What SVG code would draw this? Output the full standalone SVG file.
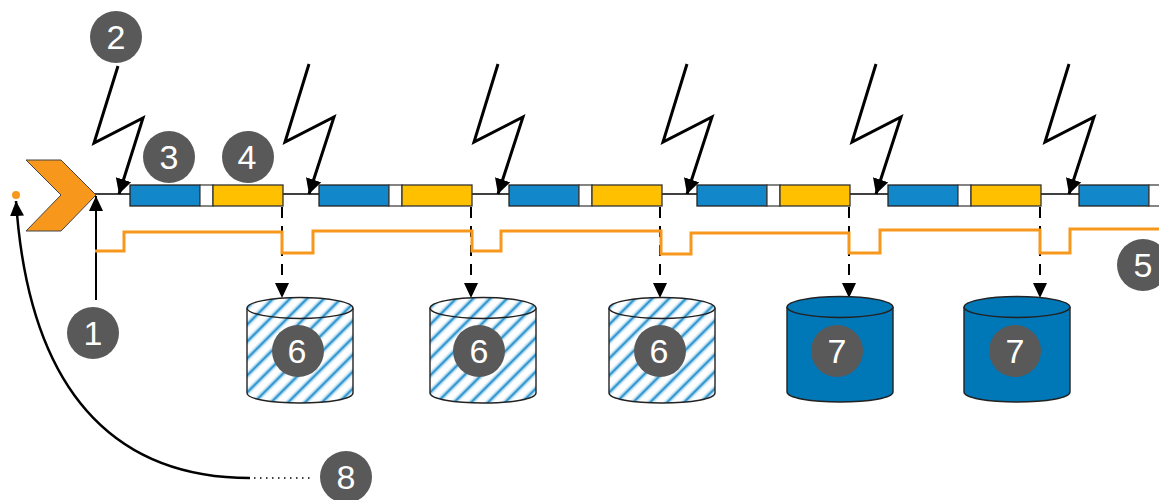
<svg xmlns="http://www.w3.org/2000/svg" xmlns:xlink="http://www.w3.org/1999/xlink" width="1159" height="500" viewBox="0 0 1159 500">
<style>
.b{fill:#1287c9;stroke:#222;stroke-width:1.3}
.w{fill:#fff;stroke:#444;stroke-width:1.3}
.y{fill:#ffc000;stroke:#333;stroke-width:1.3}
.bolt{fill:none;stroke:#000;stroke-width:3;stroke-linejoin:miter;marker-end:url(#a)}
.dash{fill:none;stroke:#000;stroke-width:2;stroke-dasharray:11 8;}
.n circle{fill:#595959}
.n text{fill:#fff;font-family:"Liberation Sans",Arial,sans-serif;font-size:34px;text-anchor:middle}
.cyl{stroke:#222;stroke-width:1.4}
.h{fill:url(#hatch)}
.s{fill:#0077b6}
</style>
<defs>
<marker id="a" markerUnits="userSpaceOnUse" markerWidth="18" markerHeight="18" refX="15" refY="8" orient="auto"><path d="M0,0L15,8L0,16z" fill="#000"/></marker>
<marker id="d" markerUnits="userSpaceOnUse" markerWidth="16" markerHeight="16" refX="15" refY="7" orient="auto"><path d="M0,0L15,7L0,14z" fill="#000"/></marker>
<linearGradient id="st" x1="0" y1="0" x2="1" y2="0"><stop offset="0" stop-color="#fff"/><stop offset=".25" stop-color="#bfe0f2"/><stop offset=".5" stop-color="#1287c9"/><stop offset=".75" stop-color="#bfe0f2"/><stop offset="1" stop-color="#fff"/></linearGradient>
<pattern id="hatch" patternUnits="userSpaceOnUse" width="12" height="40" patternTransform="translate(247 298) rotate(45)">
<rect width="12" height="40" fill="#fff"/><rect x="2" width="7" height="40" fill="url(#st)"/>
</pattern>
<g id="seg"><rect class="b" x="0" y="185" width="70" height="21"/><rect class="w" x="70" y="185" width="13" height="21"/><rect class="y" x="83" y="185" width="70" height="21"/></g>
<g id="cy"><path d="M0,10V95C0,101 24,105 53,105S106,101 106,95V10"/><ellipse cx="53" cy="10" rx="53" ry="10.500"/></g>
</defs>
<rect width="1159" height="500" fill="#fff"/>
<g id="connectors">
<path d="M95,194H1079" fill="none" stroke="#000" stroke-width="1.400"/>
<path d="M118,66L94,143L143,118L119,194" class="bolt"/>
<path d="M309,64L285,142L334,117L309,194" class="bolt"/>
<path d="M498,64L474,142L523,117L498,194" class="bolt"/>
<path d="M687,64L663,142L712,117L687,194" class="bolt"/>
<path d="M876,64L852,142L901,117L876,194" class="bolt"/>
<path d="M1069,64L1045,142L1094,117L1069,194" class="bolt"/>
<path d="M282,207V298" class="dash" marker-end="url(#d)"/>
<path d="M471,207V298" class="dash" marker-end="url(#d)"/>
<path d="M660,207V298" class="dash" marker-end="url(#d)"/>
<path d="M849,207V298" class="dash" marker-end="url(#d)"/>
<path d="M1040,207V298" class="dash" marker-end="url(#d)"/>
<path d="M96,300V196" fill="none" stroke="#000" stroke-width="2" marker-end="url(#d)"/>
<path d="M250,478C130,478 30,410 16,201" fill="none" stroke="#000" stroke-width="2.500" marker-end="url(#d)"/>
<path d="M254,478H310" fill="none" stroke="#000" stroke-width="1.500" stroke-dasharray="1.500 4.500"/>
</g>
<g id="signal"><path d="M95,251H124V232H282V253H313V231H472V251H501V231H661V254H691V233H849V253H880V230H1040V253H1070V229H1160" fill="none" stroke="#f7981d" stroke-width="3"/></g>
<g id="chevron"><path d="M26,160H61L96,195L61,231H26L61,195z" fill="#f7981d" stroke="#444" stroke-width="1"/></g>
<g id="origin"><circle cx="16" cy="195" r="4" fill="#f7981d"/></g>
<g id="seg1"><use xlink:href="#seg" x="130"/></g>
<g id="seg2"><use xlink:href="#seg" x="319"/></g>
<g id="seg3"><use xlink:href="#seg" x="509"/></g>
<g id="seg4"><use xlink:href="#seg" x="697"/></g>
<g id="seg5"><use xlink:href="#seg" x="888"/></g>
<g id="seg6"><use xlink:href="#seg" x="1079"/></g>
<g id="cyl1" class="cyl h"><use xlink:href="#cy" x="247" y="298"/></g>
<g id="cyl2" class="cyl h"><use xlink:href="#cy" x="430" y="298"/></g>
<g id="cyl3" class="cyl h"><use xlink:href="#cy" x="609" y="298"/></g>
<g id="cyl4" class="cyl s"><use xlink:href="#cy" x="787" y="297"/></g>
<g id="cyl5" class="cyl s"><use xlink:href="#cy" x="964" y="297"/></g>
<g id="n1" class="n"><circle cx="93" cy="333" r="26"/><text x="93" y="345">1</text></g>
<g id="n2" class="n"><circle cx="116" cy="37" r="26"/><text x="116" y="49">2</text></g>
<g id="n3" class="n"><circle cx="169" cy="157" r="26"/><text x="169" y="169">3</text></g>
<g id="n4" class="n"><circle cx="248" cy="157" r="26"/><text x="247" y="169">4</text></g>
<g id="n5" class="n"><circle cx="1143" cy="265" r="26"/><text x="1143" y="277">5</text></g>
<g id="n6a" class="n"><circle cx="298" cy="351" r="26"/><text x="297" y="363">6</text></g>
<g id="n6b" class="n"><circle cx="479" cy="351" r="26"/><text x="479" y="363">6</text></g>
<g id="n6c" class="n"><circle cx="660" cy="351" r="26"/><text x="659" y="363">6</text></g>
<g id="n7a" class="n"><circle cx="837" cy="351" r="26"/><text x="837" y="363">7</text></g>
<g id="n7b" class="n"><circle cx="1015" cy="351" r="26"/><text x="1015" y="363">7</text></g>
<g id="n8" class="n"><circle cx="346" cy="477" r="26"/><text x="346" y="489">8</text></g>
</svg>
